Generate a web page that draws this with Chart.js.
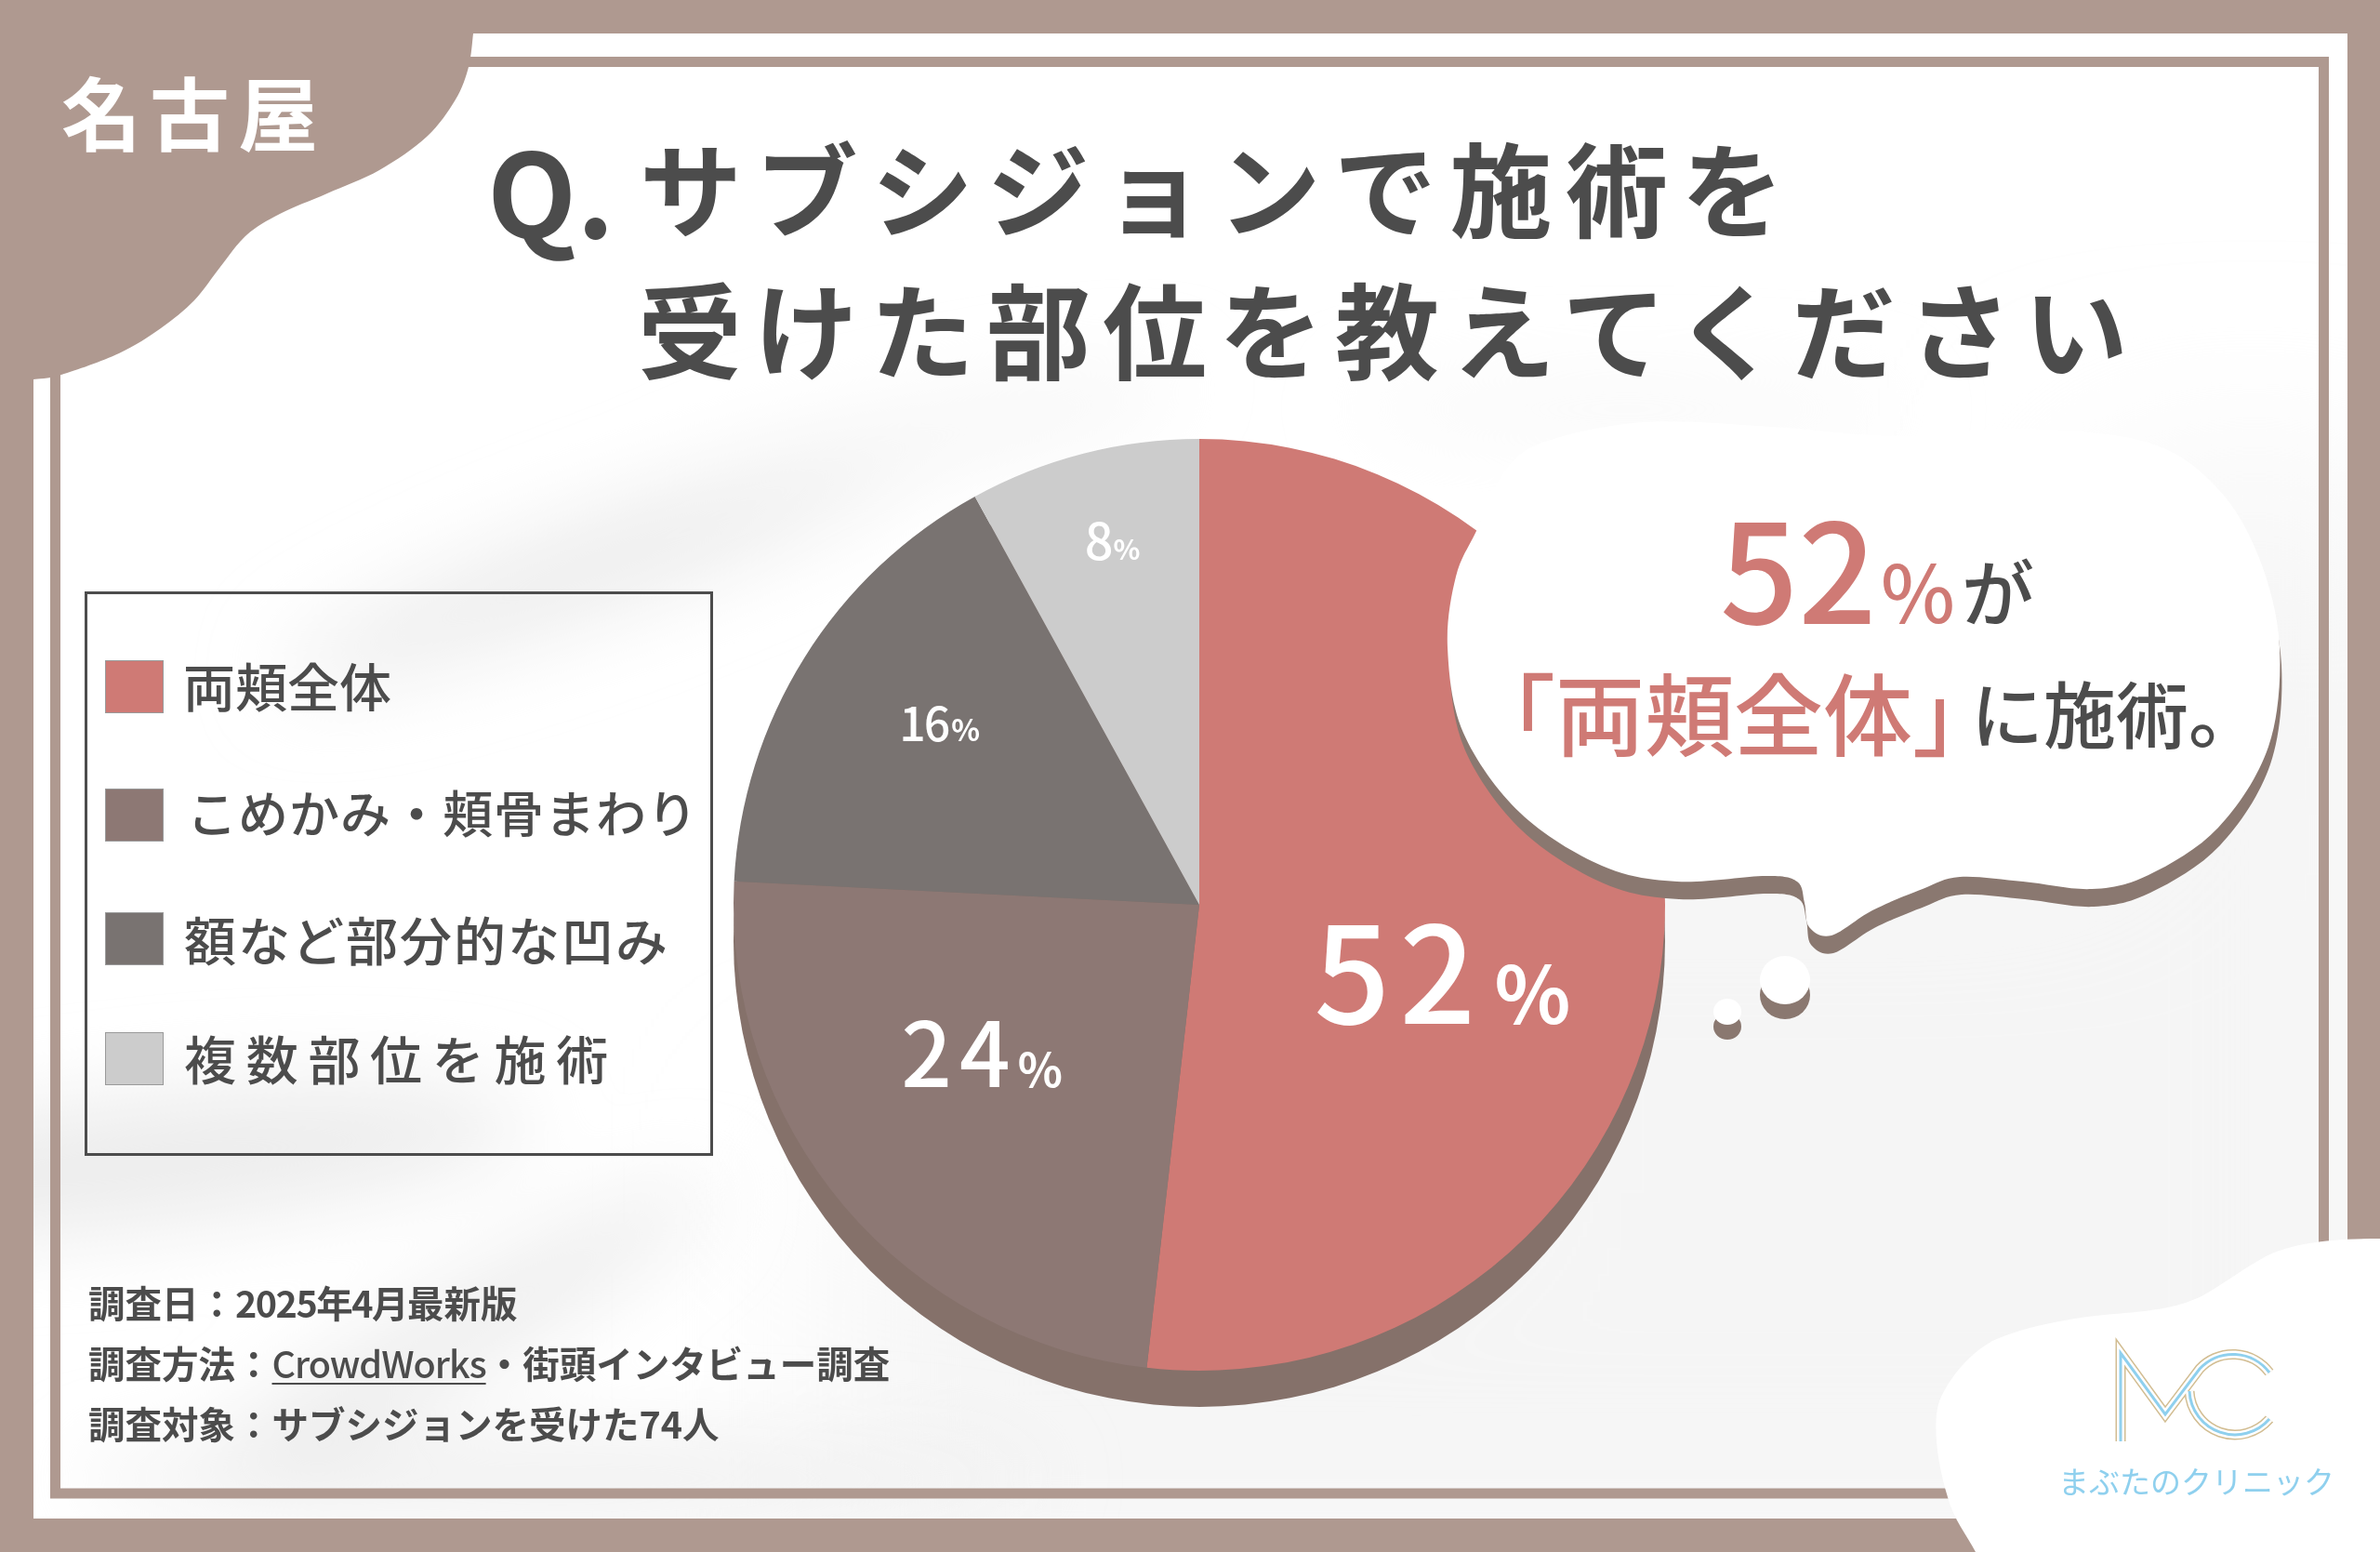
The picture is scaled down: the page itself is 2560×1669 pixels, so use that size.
<!DOCTYPE html>
<html lang="ja">
<head>
<meta charset="utf-8">
<title>サブシジョンで施術を受けた部位</title>
<script src="https://cdn.jsdelivr.net/npm/chart.js@4"></script>
<style>
  html, body { margin: 0; padding: 0; background: #af9990; }
  #page { position: relative; width: 2560px; height: 1669px; overflow: hidden; font-family: "Noto Sans CJK JP", sans-serif; color: #4c4c4c; }
  #page svg.layer { position: absolute; left: 0; top: 0; }
  #pie { position: absolute; left: 740px; top: 423px; }
  .t { position: absolute; white-space: nowrap; line-height: 1; }
  .title { font-weight: 700; }
  .note { font-size: 39.5px; font-weight: 700; left: 95px; }
  .note u { text-decoration-thickness: 2px; text-underline-offset: 5px; font-weight: 500; letter-spacing: -1px; }
  #legendBox { position: absolute; left: 91px; top: 636px; width: 670px; height: 601px; border: 3.5px solid #4c4c4c; }
  .swatch { position: absolute; left: 113px; width: 61px; height: 55px; border: 1px solid #9a9a9a; }
  .legendText { font-weight: 500; }
  .red { color: #cf7a75; }
</style>
</head>
<body>
<div id="page">
  <svg class="layer" width="2560" height="1669" viewBox="0 0 2560 1669">
    <defs>
      <filter id="soft" x="-30%" y="-30%" width="160%" height="160%"><feGaussianBlur stdDeviation="45"/></filter>
      <filter id="wide" x="-30%" y="-30%" width="160%" height="160%"><feGaussianBlur stdDeviation="110"/></filter>
      <clipPath id="panelClip"><rect x="36" y="36" width="2489" height="1597"/></clipPath>
    </defs>
    <rect x="36" y="36" width="2489" height="1597" fill="#ffffff"/>
    <g clip-path="url(#panelClip)">
      <g filter="url(#wide)" fill="#f5f5f5">
        <rect x="1500" y="850" width="1100" height="850"/>
        <rect x="900" y="1250" width="800" height="450"/>
        <rect x="2250" y="520" width="350" height="500"/>
      </g>
      <g filter="url(#soft)" fill="#ececec">
        <ellipse cx="660" cy="600" rx="380" ry="50" transform="rotate(-20 660 600)"/>
        <ellipse cx="1000" cy="470" rx="280" ry="30" transform="rotate(-12 1000 470)" fill="#f4f4f4"/>
        <ellipse cx="1750" cy="440" rx="300" ry="25" fill="#f7f7f7"/>
        <ellipse cx="150" cy="1250" rx="420" ry="70" transform="rotate(-6 150 1250)"/>
        <ellipse cx="480" cy="1440" rx="330" ry="45" transform="rotate(-30 480 1440)"/>
        <ellipse cx="600" cy="1590" rx="520" ry="40" fill="#eeeeee"/>
      </g>
    </g>
    <g fill="none" stroke="#af9990">
      <rect x="59.5" y="66.5" width="2440" height="1539.5" stroke-width="11"/>
    </g>
    <path id="cornerBlob" fill="#af9990"/>
    <path id="cornerWhite" fill="#ffffff"/>
  </svg>

  <canvas id="pie" width="1100" height="1100"></canvas>

  <svg class="layer" width="2560" height="1669" viewBox="0 0 2560 1669">
    <g fill="#8a7870">
      <path id="bubbleShadow" transform="translate(2 19)"/>
      <ellipse cx="1920" cy="1070" rx="27" ry="26"/>
      <ellipse cx="1858" cy="1104" rx="15" ry="14"/>
    </g>
    <g fill="#ffffff">
      <path id="bubble"/>
      <ellipse cx="1920" cy="1054" rx="27" ry="26"/>
      <ellipse cx="1858" cy="1088" rx="15" ry="14"/>
    </g>
    <g fill="none" stroke-linejoin="miter">
      <g stroke="#d2bd92" stroke-width="11">
        <path d="M2281 1550 V1455 L2329 1521 L2366 1472 A49 49 0 0 1 2441 1476"/>
        <path d="M2355 1496 A49 49 0 0 0 2441 1526"/>
      </g>
      <g stroke="#ffffff" stroke-width="8">
        <path d="M2281 1550 V1455 L2329 1521 L2366 1472 A49 49 0 0 1 2441 1476"/>
        <path d="M2355 1496 A49 49 0 0 0 2441 1526"/>
      </g>
      <g stroke="#8fd0ee" stroke-width="3">
        <path d="M2281 1550 V1455 L2329 1521 L2366 1472 A49 49 0 0 1 2441 1476"/>
        <path d="M2355 1496 A49 49 0 0 0 2441 1526"/>
      </g>
    </g>
  </svg>

  <div class="t title" style="left:66px;top:76px;font-size:86px;letter-spacing:9px;color:#fff">名古屋</div>
  <div class="t title" style="left:524px;top:139px;font-size:125px">Q.</div>
  <div class="t title" style="left:688px;top:144px;font-size:110px;letter-spacing:14.5px">サブシジョンで施術を</div>
  <div class="t title" style="left:686px;top:295px;font-size:112px;letter-spacing:13px">受けた部位を教えてください</div>

  <div id="legendBox"></div>
  <div id="legendRows"></div>

  <div class="t note" style="top:1380px">調査日：<span style="letter-spacing:-1.5px">2025年4月</span>最新版</div>
  <div class="t note" style="top:1445px">調査方法：<u>CrowdWorks</u>・街頭インタビュー調査</div>
  <div class="t note" style="top:1510px">調査対象：サブシジョンを受けた74人</div>

  <div class="t title red" style="left:1850px;top:533px;font-size:148px;font-weight:500">52</div>
  <div class="t title red" style="left:2023px;top:590px;font-size:85px;font-weight:500">%</div>
  <div class="t title" style="left:2110px;top:595px;font-size:78px;font-weight:500">が</div>
  <div class="t title red" style="left:1577px;top:716px;font-size:96px;font-weight:500">「両頬全体」</div>
  <div class="t title" style="left:2120px;top:726px;font-size:78px;font-weight:500">に施術。</div>

  <div class="t" style="left:2214px;top:1576px;font-size:33px;color:#8fd0ee">まぶたのクリニック</div>
</div>

<script>
const categories = ["両頬全体", "こめかみ・頬骨まわり", "額など部分的な凹み", "複数部位を施術"];
const shares = [51.8, 24, 16.2, 8];
const sliceColors = ["#cf7a75", "#8d7874", "#797371", "#cccccc"];

// where each share label sits, relative to the pie centre in radii
const labelSpots = [
  { dx: 0.246, dy: 0.256, num: 144, pct: 85, gap: 10, track: 10 },
  { dx: -0.640, dy: 0.392, num: 96, pct: 50, gap: 0, track: 8 },
  { dx: -0.644, dy: -0.352, num: 50, pct: 32, gap: 3, track: -2 },
  { dx: -0.246, dy: -0.740, num: 54, pct: 30, gap: 0, track: 0 }
];
const legendTops = [710, 848, 981, 1110];
const legendTextTops = [708, 846, 981, 1109];
const legendTextLefts = [197, 201, 198, 198];
const legendSizes = [56, 54, 56, 56];
const legendTrack = [0, 1, 2, 10.7];

// smooth outline through the points, closed unless told otherwise
function smoothPath(pts, closed = true) {
  const at = i => closed ? pts[(i + pts.length) % pts.length] : pts[Math.max(0, Math.min(pts.length - 1, i))];
  let d = `M${pts[0][0]} ${pts[0][1]}`;
  const n = closed ? pts.length : pts.length - 1;
  for (let i = 0; i < n; i++) {
    const p0 = at(i - 1), p1 = at(i), p2 = at(i + 1), p3 = at(i + 2);
    d += ` C${p1[0] + (p2[0] - p0[0]) / 6} ${p1[1] + (p2[1] - p0[1]) / 6}`
       + ` ${p2[0] - (p3[0] - p1[0]) / 6} ${p2[1] - (p3[1] - p1[1]) / 6} ${p2[0]} ${p2[1]}`;
  }
  return closed ? d + "Z" : d;
}

const bubbleOutline = [[1557,696],[1566,620],[1588,571],[1620,505],[1665,474],[1770,454],[1906,459],[2041,469],
  [2176,461],[2311,476],[2385,525],[2430,600],[2452,696],[2440,803],[2386,890],[2311,941],[2250,956],[2176,948],
  [2108,943],[2068,956],[2014,979],[1970,1006],[1946,997],[1941,971],[1933,948],[1899,942],[1804,948],[1723,931],
  [1635,874],[1574,788]];
const bubbleD = smoothPath(bubbleOutline);
document.getElementById("bubble").setAttribute("d", bubbleD);
document.getElementById("bubbleShadow").setAttribute("d", bubbleD);

const blobEdge = [[509,36],[504,72],[490,107],[459,147],[408,183],[352,208],[301,230],[265,253],[237,287],[209,323],
  [173,353],[128,380],[66,403],[36,408]];
document.getElementById("cornerBlob").setAttribute("d", "M0 0 H509 V36 " + smoothPath(blobEdge, false).replace(/^M\S+ \S+/, "") + " H0 Z");

document.getElementById("cornerWhite").setAttribute("d",
  "M2560 1332 C2500 1332 2470 1338 2446 1347 C2425 1356 2400 1375 2375 1390 C2350 1405 2320 1409 2286 1412 " +
  "C2240 1415 2180 1425 2143 1442 C2115 1458 2095 1485 2086 1507 C2078 1530 2084 1575 2095 1610 C2102 1635 2115 1650 2125 1669 H2560 Z");

const rows = document.getElementById("legendRows");
categories.forEach((name, i) => {
  rows.innerHTML += `<div class="swatch" style="top:${legendTops[i]}px;background:${sliceColors[i]}"></div>`
    + `<div class="t legendText" style="left:${legendTextLefts[i]}px;top:${legendTextTops[i]}px;font-size:${legendSizes[i]}px;letter-spacing:${legendTrack[i]}px">${name}</div>`;
});

const pieExtras = {
  id: "pieExtras",
  beforeDatasetsDraw(chart) {
    const arc = chart.getDatasetMeta(0).data[0];
    const ctx = chart.ctx;
    ctx.save();
    ctx.fillStyle = "#85716a";
    ctx.beginPath();
    ctx.arc(arc.x, arc.y + 39, arc.outerRadius, 0, Math.PI * 2);
    ctx.fill();
    ctx.restore();
  },
  afterDatasetsDraw(chart) {
    const arcs = chart.getDatasetMeta(0).data;
    const ctx = chart.ctx;
    ctx.save();
    ctx.fillStyle = "#ffffff";
    ctx.textBaseline = "alphabetic";
    arcs.forEach((arc, i) => {
      const spot = labelSpots[i];
      const x = arc.x + arc.outerRadius * spot.dx;
      const y = arc.y + arc.outerRadius * spot.dy;
      ctx.font = `500 ${spot.num}px "Noto Sans CJK JP"`;
      ctx.letterSpacing = spot.track + "px";
      const text = String(Math.round(shares[i]));
      ctx.fillText(text, x, y);
      const w = ctx.measureText(text).width;
      ctx.font = `700 ${spot.pct}px "Noto Sans CJK JP"`;
      ctx.letterSpacing = "0px";
      ctx.fillText("%", x + w + spot.gap, y);
    });
    ctx.restore();
  }
};

new Chart(document.getElementById("pie"), {
  type: "pie",
  data: {
    labels: categories,
    datasets: [{
      data: shares,
      backgroundColor: sliceColors,
      borderWidth: 0,
      radius: 501
    }]
  },
  options: {
    responsive: false,
    animation: false,
    devicePixelRatio: 1,
    layout: { padding: 0 },
    plugins: { legend: { display: false }, tooltip: { enabled: false } }
  },
  plugins: [pieExtras]
});
</script>
</body>
</html>
